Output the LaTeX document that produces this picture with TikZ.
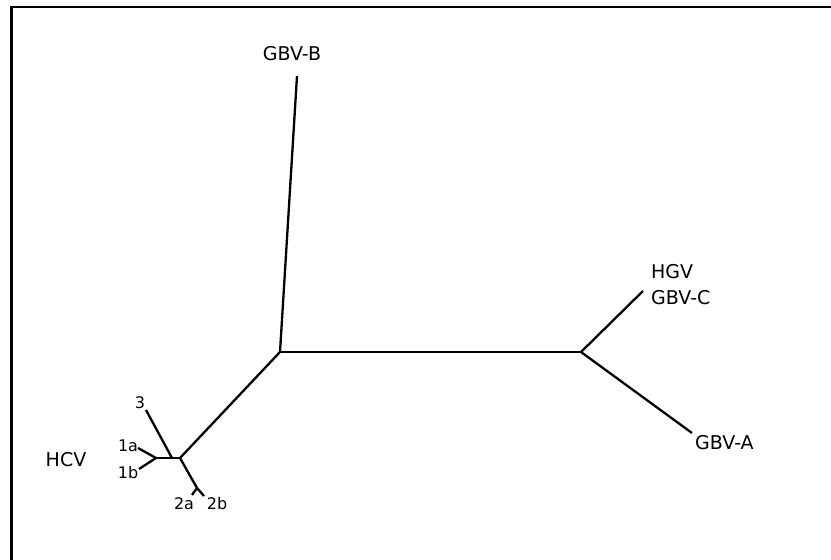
\documentclass[tikz,border=0pt]{standalone}
\usepackage{fontspec}
\setmainfont{DejaVu Sans}
\begin{document}
\begin{tikzpicture}[x=1pt,y=-1pt,
  branch/.style={line width=2.3pt, line cap=butt},
  taxon/.style={font=\fontsize{19}{21}\selectfont, inner sep=0pt},
  subtype/.style={font=\fontsize{16}{18}\selectfont, inner sep=0pt}]
\useasboundingbox (0,0) rectangle (831,560);
% frame: top and left rules only
\draw[line width=2.6pt] (11.5,560) -- (11.5,7) -- (831,7);

% internal nodes
\coordinate (A) at (280,352);
\coordinate (B) at (581,352);
\coordinate (H) at (180,458);
\coordinate (H1) at (156,458);
\coordinate (H3) at (172,458);
\coordinate (H2) at (197,488);

% tips
\coordinate (tGBVB) at (297,76);
\coordinate (tGBVC) at (643,291);
\coordinate (tGBVA) at (692,433);
\coordinate (t1a) at (138,448);
\coordinate (t1b) at (139,469);
\coordinate (t3) at (146,410);
\coordinate (t2a) at (192,495);
\coordinate (t2b) at (204,496);

% labels
\node[taxon] (lGBVB) at (292,54) {GBV-B};
\node[taxon, anchor=west] (lHGV) at (651,272) {HGV};
\node[taxon, anchor=west] (lGBVC) at (651,298) {GBV-C};
\node[taxon, anchor=west] (lGBVA) at (695,443) {GBV-A};
\node[taxon] (lHCV) at (66,460) {HCV};
\node[subtype] (l3) at (140,403) {3};
\node[subtype] (l1a) at (128,446) {1a};
\node[subtype] (l1b) at (128,473) {1b};
\node[subtype] (l2a) at (184,504) {2a};
\node[subtype] (l2b) at (217,504) {2b};

% branches
\draw[branch] (A) -- (tGBVB);
\draw[branch] (A) -- (B);
\draw[branch] (B) -- (tGBVC);
\draw[branch] (B) -- (tGBVA);
\draw[branch] (A) -- (H);
\draw[branch] (H) -- (H1);
\draw[branch] (H1) -- (t1a);
\draw[branch] (H1) -- (t1b);
\draw[branch] (H3) -- (t3);
\draw[branch] (H) -- (H2);
\draw[branch] (H2) -- (t2a);
\draw[branch] (H2) -- (t2b);
\end{tikzpicture}
\end{document}
